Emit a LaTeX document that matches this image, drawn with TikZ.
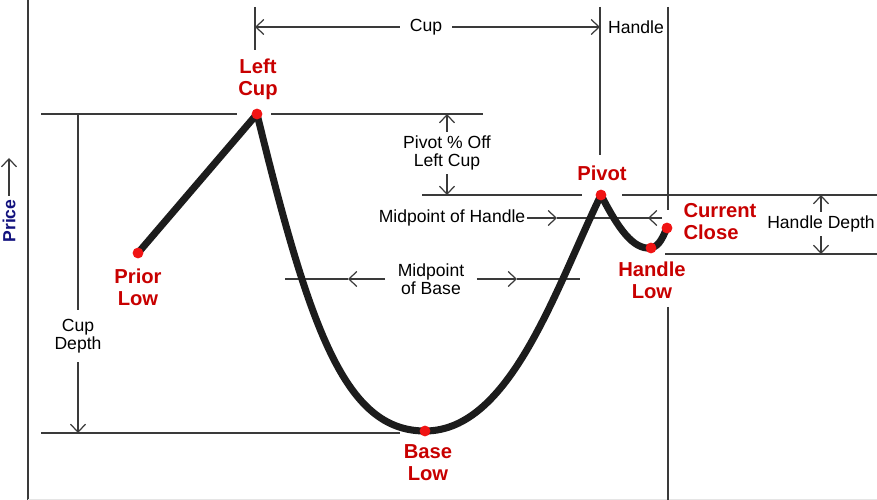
\documentclass[tikz,border=0pt]{standalone}
\usepackage{fontspec}
\setmainfont{Liberation Sans}
\usetikzlibrary{arrows.meta,positioning}
\definecolor{guide-gray}{HTML}{3A3A3A}
\definecolor{label-red}{HTML}{C80000}
\definecolor{dot-red}{HTML}{F01414}
\definecolor{price-navy}{HTML}{12127E}
\definecolor{curve-black}{HTML}{1C1C1C}

\begin{document}
\begin{tikzpicture}[x=0.02cm, y=-0.02cm,
    guide/.style={draw=guide-gray, line width=0.7pt},
    dim/.style={guide, -{Straight Barb[length=4.5pt,width=8.5pt]}},
    note/.style={font=\fontsize{10}{10.5}\selectfont, align=center, inner sep=2pt},
    redlbl/.style={font=\fontsize{11.5}{12.5}\selectfont\bfseries, text=label-red,
                   align=center, inner sep=0pt}]
    \useasboundingbox (0,0) rectangle (877,500);

    % price points
    \coordinate (priorlow) at (138,253);
    \coordinate (leftcup) at (257,114);
    \coordinate (baselow) at (425,431);
    \coordinate (pivot) at (601,195);
    \coordinate (handlelow) at (651,248);
    \coordinate (curclose) at (667,228);

    % axis and guide lines
    \draw[guide] (28,0) -- (28,500);
    \draw[draw=gray!20, line width=0.6pt] (28,499.5) -- (877,499.5);
    \draw[guide] (255,7) -- (255,50);
    \draw[guide] (600,7) -- (600,155);
    \draw[guide] (668,7) -- (668,210);
    \draw[guide] (668,307) -- (668,500);
    \draw[guide] (41,114) -- (237,114);
    \draw[guide] (271,114) -- (483,114);
    \draw[guide] (422,195) -- (582,195);
    \draw[guide] (622,195) -- (877,195);
    \draw[guide] (665,254) -- (877,254);
    \draw[guide] (41,433) -- (400,433);

    \node[rotate=90, font=\fontsize{10}{12}\selectfont\bfseries, text=price-navy,
          inner sep=2pt] (price) at (9,221) {Price};
    \coordinate (pricetip) at (9,158);
    \draw[dim] (price.east) -- (pricetip);

    \node[note, inner xsep=5.5pt] (cup) at (426,27) {Cup};
    \coordinate (cupL) at (255,27);
    \coordinate (cupR) at (600,27);
    \draw[dim] (cup.west) -- (cupL);
    \draw[dim] (cup.east) -- (cupR);
    \node[note] (handle) at (636,27) {Handle};

    \node[note] (pctoff) at (447,153) {Pivot \% Off\\Left Cup};
    \draw[dim] (pctoff.north) -- (pctoff.north |- leftcup);
    \draw[dim] (pctoff.south) -- (pctoff.south |- pivot);

    \node[note, inner xsep=1pt] (midhandle) at (452,218) {Midpoint of Handle};
    \coordinate (mhA) at (557,218);
    \coordinate (mhB) at (648,218);
    \coordinate (mhEnd) at (662,218);
    \draw[dim] (midhandle.east) -- (mhA);
    \draw[guide] (mhA) -- (mhEnd);
    \draw[dim] (mhEnd) -- (mhB);

    \node[note] (hdepth) at (821,224) {Handle Depth};
    \coordinate (hdBot) at (821,254);
    \draw[dim] (hdepth.north) -- (hdepth.north |- pivot);
    \draw[dim] (hdepth.south) -- (hdBot);

    \node[note, inner xsep=7pt] (midbase) at (431,279) {Midpoint\\of Base};
    \coordinate (mbL) at (348,279);
    \coordinate (mbLL) at (285,279);
    \coordinate (mbR) at (517,279);
    \coordinate (mbRR) at (580,279);
    \draw[dim] (midbase.west) -- (mbL);
    \draw[guide] (mbL) -- (mbLL);
    \draw[dim] (midbase.east) -- (mbR);
    \draw[guide] (mbR) -- (mbRR);

    \node[note, inner sep=5pt] (cupdepth) at (78,336) {Cup\\Depth};
    \coordinate (cdBot) at (78,433);
    \draw[guide] (cupdepth.north) -- (cupdepth.north |- leftcup);
    \draw[dim] (cupdepth.south) -- (cdBot);

    % the cup and handle
    \draw[curve-black, line width=4pt, line cap=round, line join=round]
      (priorlow) -- (leftcup)
      .. controls (310,330) and (345,431) .. (baselow)
      .. controls (510,431) and (555,290) .. (pivot)
      .. controls (618,228) and (633,250) .. (handlelow)
      .. controls (660,246) and (663,236) .. (curclose);
    \foreach \p in {priorlow,leftcup,baselow,pivot,handlelow,curclose}
      \fill[dot-red] (\p) circle (3.1pt);

    \node[redlbl] (lblleftcup) at (258,79) {Left\\Cup};
    \node[redlbl] (lblpivot) at (602,173) {Pivot};
    \node[redlbl, align=left] (lblclose) at (720,222) {Current\\Close};
    \node[redlbl] (lblhandlelow) at (652,280) {Handle\\Low};
    \node[redlbl] (lblpriorlow) at (138,287) {Prior\\Low};
    \node[redlbl] (lblbaselow) at (428,463) {Base\\Low};
\end{tikzpicture}
\end{document}
